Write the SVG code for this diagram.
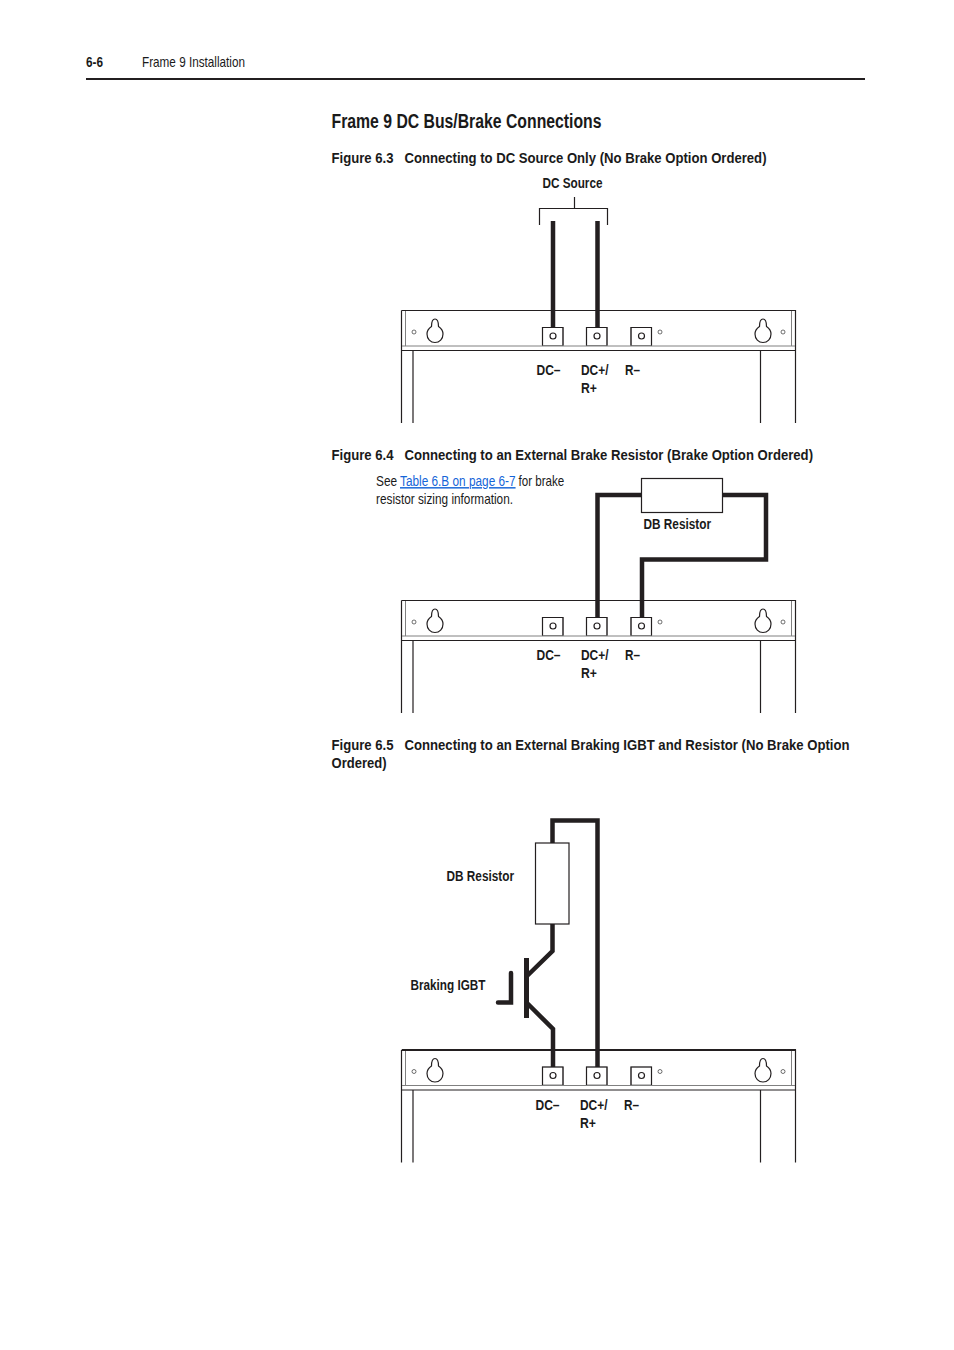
<svg xmlns="http://www.w3.org/2000/svg" xmlns:xlink="http://www.w3.org/1999/xlink" width="954" height="1350" viewBox="0 0 954 1350">
<style>
text{font-family:"Liberation Sans",Arial,sans-serif;fill:#1a1a1a;font-size:15px}
.b{font-weight:bold}
.s{font-size:14.500px}
.h{font-size:20px;font-weight:bold}
.l{fill:#1565d8}
.thin{fill:none;stroke:#231f20;stroke-width:1.2}
.dot{fill:none;stroke:#333;stroke-width:.7}
.gray{fill:none;stroke:#808080;stroke-width:1}
.wire{fill:none;stroke:#231f20;stroke-width:4.500;stroke-linejoin:miter}
.box{fill:#fff;stroke:#231f20;stroke-width:1.2}
</style>
<defs>
<g id="panel">
<path class="thin" d="M401.500 310.500H795.500V423M401.500 310.500V423M401.500 350.500H795.500M413 350.500V423M760.500 350.500V423"/>
<path class="gray" d="M405.500 311V346M791.500 311V346M402 346H795"/>
<circle class="dot" cx="414" cy="332" r="2"/>
<circle class="dot" cx="660" cy="332" r="2"/>
<circle class="dot" cx="783" cy="332" r="2"/>
<path class="thin" d="M431.500 326.500C431.500 322 432 319 435 319C438 319 438.500 322 438.500 326.500C441.500 328.500 443 331 443 334C443 339 439.500 342.500 435 342.500C430.500 342.500 427 339 427 334C427 331 428.500 328.500 431.500 326.500Z"/>
<path class="thin" d="M759.500 326.500C759.500 322 760 319 763 319C766 319 766.500 322 766.500 326.500C769.500 328.500 771 331 771 334C771 339 767.500 342.500 763 342.500C758.500 342.500 755 339 755 334C755 331 756.500 328.500 759.500 326.500Z"/>
<rect class="gray" x="542.500" y="327.500" width="20.500" height="18"/>
<rect class="gray" x="586.500" y="327.500" width="20.500" height="18"/>
<rect class="gray" x="631" y="327.500" width="20.500" height="18"/>
<path class="thin" d="M542.500 345.500V327.500H563V345.500M586.500 345.500V327.500H607V345.500M631 345.500V327.500H651.500V345.500"/>
<circle class="thin" cx="553" cy="336" r="3"/>
<circle class="thin" cx="597" cy="336" r="3"/>
<circle class="thin" cx="641.500" cy="336" r="3"/>
</g>
</defs>

<g id="page-header">
<text class="b s" x="86" y="66.500" textLength="17" lengthAdjust="spacingAndGlyphs">6-6</text>
<text class="s" x="142" y="66.500" textLength="103" lengthAdjust="spacingAndGlyphs">Frame 9 Installation</text>
<path d="M86 79H865" stroke="#231f20" stroke-width="2" fill="none"/>
</g>
<text class="h" x="331.500" y="128" textLength="270" lengthAdjust="spacingAndGlyphs">Frame 9 DC Bus/Brake Connections</text>

<g id="figure-6-3">
<text class="b" x="331.500" y="163" textLength="62" lengthAdjust="spacingAndGlyphs">Figure 6.3</text>
<text class="b" x="404.500" y="163" textLength="362" lengthAdjust="spacingAndGlyphs">Connecting to DC Source Only (No Brake Option Ordered)</text>
<g id="dc-source">
<text class="b s" x="542.500" y="188" textLength="60" lengthAdjust="spacingAndGlyphs">DC Source</text>
<path class="thin" d="M574.500 197V208.500M539.500 225V208.500H607.500V225"/>
</g>
<use id="panel-1" xlink:href="#panel" href="#panel"/>
<g id="connectors-1">
<path class="wire" d="M553 221V327M597.500 221V327"/>
</g>
<g id="labels-1">
<text class="b s" x="536.500" y="375" textLength="24" lengthAdjust="spacingAndGlyphs">DC–</text>
<text class="b s" x="581" y="375" textLength="27.500" lengthAdjust="spacingAndGlyphs">DC+/</text>
<text class="b s" x="581" y="392.500" textLength="16" lengthAdjust="spacingAndGlyphs">R+</text>
<text class="b s" x="625" y="375" textLength="15" lengthAdjust="spacingAndGlyphs">R–</text>
</g>
</g>

<g id="figure-6-4">
<text class="b" x="331.500" y="460" textLength="62" lengthAdjust="spacingAndGlyphs">Figure 6.4</text>
<text class="b" x="404.500" y="460" textLength="408.500" lengthAdjust="spacingAndGlyphs">Connecting to an External Brake Resistor (Brake Option Ordered)</text>
<text class="s" transform="translate(376 486) scale(.82 1)">See</text>
<text class="s l" transform="translate(400 486) scale(.815 1)" text-decoration="underline">Table 6.B on page 6-7</text>
<text class="s" transform="translate(518.500 486) scale(.8 1)">for brake</text>
<text class="s" x="376" y="504" textLength="137" lengthAdjust="spacingAndGlyphs">resistor sizing information.</text>
<use id="panel-2" xlink:href="#panel" href="#panel" transform="translate(0 290)"/>
<g id="connectors-2">
<path class="wire" d="M597.500 617V495H641M722 495H766V559.500H642V617"/>
</g>
<g id="db-resistor-1">
<rect class="box" x="641.500" y="478.500" width="81" height="34"/>
<text class="b s" x="643.500" y="529" textLength="67.500" lengthAdjust="spacingAndGlyphs">DB Resistor</text>
</g>
<g id="labels-2">
<text class="b s" x="536.500" y="660" textLength="24" lengthAdjust="spacingAndGlyphs">DC–</text>
<text class="b s" x="581" y="660" textLength="27.500" lengthAdjust="spacingAndGlyphs">DC+/</text>
<text class="b s" x="581" y="677.500" textLength="16" lengthAdjust="spacingAndGlyphs">R+</text>
<text class="b s" x="625" y="660" textLength="15" lengthAdjust="spacingAndGlyphs">R–</text>
</g>
</g>

<g id="figure-6-5">
<text class="b" x="331.500" y="750" textLength="62" lengthAdjust="spacingAndGlyphs">Figure 6.5</text>
<text class="b" x="404.500" y="750" textLength="445" lengthAdjust="spacingAndGlyphs">Connecting to an External Braking IGBT and Resistor (No Brake Option</text>
<text class="b" x="331.500" y="768" textLength="55" lengthAdjust="spacingAndGlyphs">Ordered)</text>
<use id="panel-3" xlink:href="#panel" href="#panel" transform="translate(0 739.500)"/>
<path d="M402 1050H796" stroke="#231f20" stroke-width="2" fill="none"/>
<g id="connectors-3">
<path class="wire" d="M552.500 843V820.500H597.500V1067"/>
<path class="wire" d="M552.500 924V951L527 976M527 1003L553 1029V1067"/>
</g>
<g id="db-resistor-2">
<rect class="box" x="535.500" y="843" width="33.500" height="81"/>
<text class="b s" x="446.500" y="880.500" textLength="67.500" lengthAdjust="spacingAndGlyphs">DB Resistor</text>
</g>
<g id="braking-igbt">
<text class="b s" x="410.500" y="989.500" textLength="75" lengthAdjust="spacingAndGlyphs">Braking IGBT</text>
<path d="M526.500 958V1018" fill="none" stroke="#231f20" stroke-width="5"/>
<path d="M511 973V1002.500H498" fill="none" stroke="#231f20" stroke-width="4.500" stroke-linecap="round"/>
</g>
<g id="labels-3">
<text class="b s" x="535.500" y="1110" textLength="24" lengthAdjust="spacingAndGlyphs">DC–</text>
<text class="b s" x="580" y="1110" textLength="27.500" lengthAdjust="spacingAndGlyphs">DC+/</text>
<text class="b s" x="580" y="1127.500" textLength="16" lengthAdjust="spacingAndGlyphs">R+</text>
<text class="b s" x="624" y="1110" textLength="15" lengthAdjust="spacingAndGlyphs">R–</text>
</g>
</g>
</svg>
